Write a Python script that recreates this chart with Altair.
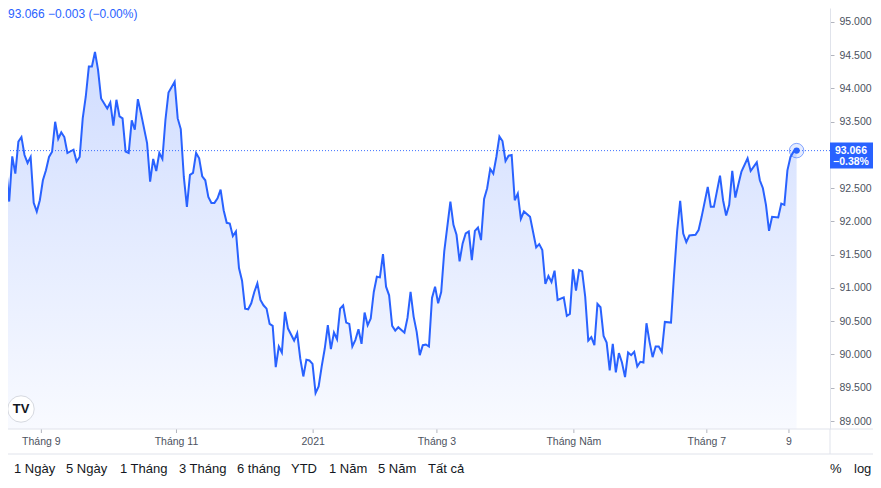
import altair as alt
import pandas as pd

# ---------------- data ----------------
values = [
    93.39, 93.18, 92.82, 92.30, 92.98, 92.72, 93.20, 93.27, 93.00, 92.88,
    92.97, 92.28, 92.15, 92.32, 92.62, 92.77, 92.97, 93.05, 93.50, 93.24,
    93.34, 93.27, 93.03, 93.08, 92.90, 92.97, 93.55, 93.88, 94.33, 94.33,
    94.55, 94.28, 93.85, 93.70, 93.79, 93.44, 93.83, 93.58, 93.55, 93.05,
    93.03, 93.52, 93.38, 93.84, 93.63, 93.18, 92.60, 92.94, 92.76, 93.03,
    92.94, 93.53, 93.94, 94.10, 93.55, 93.39, 92.67, 92.22, 92.70, 92.73,
    93.03, 92.95, 92.68, 92.62, 92.37, 92.28, 92.28, 92.35, 92.48, 92.17,
    91.98, 91.97, 91.78, 91.85, 91.30, 91.11, 90.69, 90.68, 90.77, 90.94,
    91.07, 90.82, 90.74, 90.69, 90.46, 90.43, 89.81, 90.12, 90.03, 90.64,
    90.39, 90.21, 90.32, 89.94, 89.67, 89.92, 89.91, 89.86, 89.42, 89.52,
    89.82, 90.09, 90.44, 90.08, 90.33, 90.23, 90.69, 90.74, 90.48, 90.46,
    90.12, 90.22, 90.38, 90.16, 90.63, 90.44, 90.54, 90.94, 91.17, 91.16,
    91.51, 91.02, 90.89, 90.43, 90.36, 90.41, 90.37, 90.33, 90.55, 90.94,
    90.57, 90.34, 89.99, 90.14, 90.15, 90.12, 90.85, 91.02, 90.77, 90.94,
    91.55, 92.30, 91.95, 91.80, 91.40, 91.67, 91.82, 91.85, 91.42, 91.86,
    91.91, 91.72, 92.34, 92.50, 92.79, 92.72, 92.97, 93.28, 93.21, 92.91,
    92.99, 93.00, 92.32, 92.42, 92.04, 92.15, 92.07, 91.61, 91.66, 91.57,
    91.06, 91.18, 91.09, 91.26, 90.82, 90.86, 90.58, 90.61, 91.28, 90.96,
    91.27, 91.25, 90.87, 90.21, 90.26, 90.14, 90.76, 90.71, 90.28, 90.18,
    89.76, 90.16, 89.73, 90.02, 89.88, 89.66, 90.03, 89.99, 90.04, 89.82,
    89.89, 89.88, 90.47, 90.19, 89.96, 90.12, 90.12, 90.04, 90.49, 90.48,
    91.20, 91.85, 92.31, 91.82, 91.69, 91.79, 91.80, 91.87, 92.07, 92.52,
    92.22, 92.22, 92.69, 92.32, 92.09, 92.25, 92.76, 92.36, 92.56, 92.75,
    92.95, 92.76, 92.89, 92.62, 92.50, 92.25, 91.86, 92.07, 92.06, 92.27,
    92.25, 92.77, 92.97, 93.05, 93.066,
]

# trading-session number of each reading (sessions without a reading are skipped)
sessions = (list(range(0, 23)) + list(range(24, 34)) + list(range(35, 47))
            + list(range(48, 56)) + list(range(57, 95)) + list(range(96, 146))
            + list(range(147, 172)) + [173] + list(range(175, 183))
            + list(range(184, 218)) + list(range(219, 226)) + list(range(227, 230))
            + list(range(231, 234)) + list(range(235, 243)) + [244, 245]
            + list(range(247, 253)) + list(range(254, 261)))

tick_pos = [13.5, 57.6, 102.2, 142.6, 187.3, 230.7, 257.5]
tick_labels = ["Tháng 9", "Tháng 11", "2021", "Tháng 3", "Tháng Năm", "Tháng 7", "9"]
y_ticks = [89.0, 89.5, 90.0, 90.5, 91.0, 91.5, 92.0, 92.5, 93.5, 94.0, 94.5, 95.0]

header_text = "93.066  −0.003 (−0.00%)"
box_pct = "−0.38%"
ranges = ["1 Ngày", "5 Ngày", "1 Tháng", "3 Tháng", "6 tháng", "YTD", "1 Năm", "5 Năm", "Tất cả"]
right_opts = ["%", "log"]

# ---------------- layout / style ----------------
range_px = [6, 58, 112, 171, 229, 283, 321, 370, 420]
right_px = [822, 846]
W, H = 822, 421
SVG_W, SVG_H = 865, 468
X_DOMAIN = [2.611, 270.9]
Y_DOMAIN = [88.8797, 95.2105]
PX_PER_UNIT = 66.5
BLUE = "#2962FF"
FONT = "Liberation Sans"
LINE_GREY = "#E0E3EB"
TEXT = "#131722"
AXIS_TEXT = "#4C525E"

xs = alt.Scale(domain=X_DOMAIN, nice=False, zero=False)
ys = alt.Scale(domain=Y_DOMAIN, nice=False, zero=False)
yaxis = alt.Axis(orient="right", values=y_ticks, format=".3f", title=None, grid=False,
                 labelFont=FONT, labelFontSize=10.5, labelColor=AXIS_TEXT,
                 tickSize=4, tickColor="#B2B5BE", domainColor=LINE_GREY,
                 labelPadding=5, labelOverlap=False, labelFlush=False)

df = pd.DataFrame({"session": sessions, "value": values})
last = pd.DataFrame({"session": [sessions[-1]], "value": [values[-1]]})
last["top"] = last["value"] + 8 / PX_PER_UNIT
last["bottom"] = last["value"] - 18 / PX_PER_UNIT

X = alt.X("session:Q", scale=xs, axis=None)
Y = alt.Y("value:Q", scale=ys, axis=yaxis)

area = alt.Chart(df).mark_area(
    clip=True,
    color=alt.Gradient(
        gradient="linear",
        stops=[alt.GradientStop(color="rgba(41,98,255,0.22)", offset=0),
               alt.GradientStop(color="rgba(41,98,255,0.03)", offset=1)],
        x1=1, x2=1, y1=0, y2=1),
).encode(x=X, y=Y, y2=alt.datum(Y_DOMAIN[0]))

line = alt.Chart(df).mark_line(clip=True, color=BLUE, strokeWidth=2).encode(x=X, y=Y)

dotted = alt.Chart(last).mark_rule(color=BLUE, strokeDash=[1, 2], strokeWidth=1, opacity=0.9).encode(y=Y)

halo = alt.Chart(last).mark_circle(size=210, color=BLUE, fillOpacity=0.12,
                                   stroke=BLUE, strokeWidth=1, strokeOpacity=0.55).encode(x=X, y=Y)
dot = alt.Chart(last).mark_circle(size=40, color=BLUE, opacity=1).encode(x=X, y=Y)

box = alt.Chart(last).mark_rect(color=BLUE).encode(
    x=alt.value(822), x2=alt.value(SVG_W),
    y=alt.Y("top:Q", scale=ys, axis=yaxis), y2="bottom:Q")
box_t1 = alt.Chart(last).mark_text(align="center", baseline="middle", color="white",
                                   fontSize=10.5, fontWeight="bold", font=FONT).encode(
    x=alt.value(843), y=Y, text=alt.Text("value:Q", format=".3f"))
box_t2 = alt.Chart(last).mark_text(align="center", baseline="middle", color="white",
                                   fontSize=10.5, fontWeight="bold", font=FONT, dy=11).encode(
    x=alt.value(843), y=Y, text=alt.value(box_pct))

header = alt.Chart(pd.DataFrame({"t": [header_text]})).mark_text(
    align="left", baseline="top", color=BLUE, fontSize=12, font=FONT).encode(
    x=alt.value(0), y=alt.value(1), text="t:N")

one = pd.DataFrame({"k": [0]})
logo_c = alt.Chart(one).mark_circle(size=700, color="white", opacity=1,
                                     stroke="#D6D9E0", strokeWidth=1).encode(
    x=alt.value(13), y=alt.value(401))
logo_t = alt.Chart(one).mark_text(fontSize=13, fontWeight=900, font=FONT, color=TEXT,
                                   baseline="middle", align="center").encode(
    x=alt.value(13), y=alt.value(401), text=alt.value("TV"))

ticks_df = pd.DataFrame({"pos": tick_pos, "label": tick_labels})
xlabels = alt.Chart(ticks_df).mark_text(baseline="middle", fontSize=10.5, font=FONT,
                                        color=AXIS_TEXT).encode(
    x=alt.X("pos:Q", scale=xs, axis=None), y=alt.value(434), text="label:N")
xticks = alt.Chart(ticks_df).mark_rule(color="#B2B5BE").encode(
    x=alt.X("pos:Q", scale=xs, axis=None), y=alt.value(421), y2=alt.value(425))

hline1 = alt.Chart(one).mark_rule(color=LINE_GREY).encode(
    x=alt.value(-8), x2=alt.value(SVG_W), y=alt.value(421))
hline2 = alt.Chart(one).mark_rule(color=LINE_GREY).encode(
    x=alt.value(-8), x2=alt.value(SVG_W), y=alt.value(446))
vline = alt.Chart(one).mark_rule(color=LINE_GREY).encode(
    x=alt.value(822), y=alt.value(421), y2=alt.value(446))

toolbar = []
for lab, px in zip(ranges + right_opts, range_px + right_px):
    toolbar.append(
        alt.Chart(pd.DataFrame({"t": [lab]})).mark_text(
            align="left", baseline="middle", fontSize=13, font=FONT, color=TEXT).encode(
            x=alt.value(px), y=alt.value(461), text="t:N"))

chart = alt.layer(
    area, line, dotted, halo, dot, box, box_t1, box_t2, header,
    logo_c, logo_t, xlabels, xticks, hline1, hline2, vline, *toolbar
).properties(
    width=W, height=H,
    padding={"left": 0, "top": 0, "right": SVG_W - W, "bottom": SVG_H - H},
    autosize=alt.AutoSizeParams(type="none"),
    background="white",
).configure_view(strokeWidth=0)

chart.save("out.html", embed_options={"renderer": "svg", "actions": False})
